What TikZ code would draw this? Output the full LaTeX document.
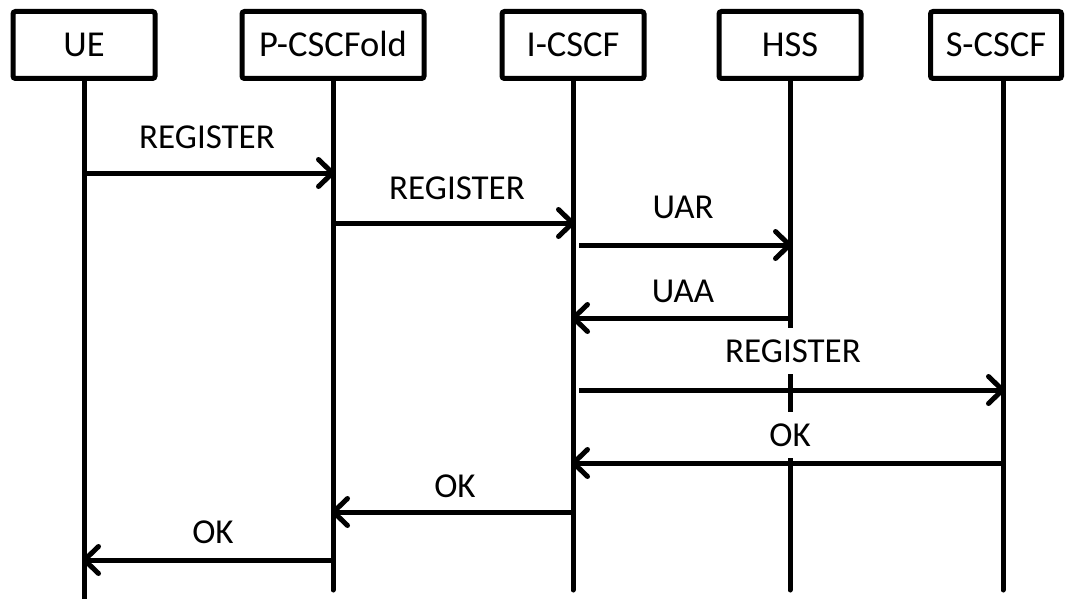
\documentclass[tikz,border=0pt]{standalone}
\usepackage{fontspec}
\setmainfont{Carlito}
\usetikzlibrary{arrows.meta}
\begin{document}
\begin{tikzpicture}[x=1pt,y=-1pt,
  actor/.style={draw, line width=5pt, rounded corners=2.5pt, minimum height=67pt,
    inner sep=0pt, font=\fontsize{36.5}{42}\selectfont, text height=23pt, text depth=0pt},
  life/.style={line width=5pt, line cap=round},
  msg/.style={line width=5pt, -{Straight Barb[length=14pt,width=27pt,round]}},
  lbl/.style={fill=white, inner xsep=4pt, inner ysep=12pt, anchor=base,
    font=\fontsize{35}{40}\selectfont, text height=22pt, text depth=0pt},
]
\useasboundingbox (0,0) rectangle (1067,599);

% participants
\node[actor, minimum width=142pt] (ue) at (84,45) {UE};
\node[actor, minimum width=182pt] (pc) at (333,45) {P-CSCFold};
\node[actor, minimum width=142pt] (ic) at (573,45) {I-CSCF};
\node[actor, minimum width=142pt] (hss) at (790,45) {HSS};
\node[actor, minimum width=131pt] (sc) at (996,45) {S-CSCF};

% lifeline ends
\coordinate (ueT) at (84,81);   \coordinate (ueB) at (84,602);
\coordinate (pcT) at (333,81);  \coordinate (pcB) at (333,590);
\coordinate (icT) at (573,81);  \coordinate (icB) at (573,590);
\coordinate (hsT) at (790,81);  \coordinate (hsB) at (790,590);
\coordinate (scT) at (1003,81); \coordinate (scB) at (1003,590);

\draw[life] (ueT) -- (ueB);
\draw[life] (pcT) -- (pcB);
\draw[life] (icT) -- (icB);
\draw[life] (hsT) -- (hsB);
\draw[life] (scT) -- (scB);

% message labels
\node[lbl] (t1) at (207,148) {REGISTER};
\node[lbl] (t2) at (457,199) {REGISTER};
\node[lbl] (t3) at (683,218) {UAR};
\node[lbl] (t4) at (683,302) {UAA};
\node[lbl] (t5) at (793,362) {REGISTER};
\node[lbl] (t6) at (790,446) {OK};
\node[lbl] (t7) at (455,497) {OK};
\node[lbl] (t8) at (213,543) {OK};

% messages
\draw[msg] (ueT |- 0,173) -- ([xshift=2pt]pcT |- 0,173);
\draw[msg] (pcT |- 0,223) -- ([xshift=2pt]icT |- 0,223);
\draw[msg, shorten <=6pt] (icT |- 0,245) -- ([xshift=2pt]hsT |- 0,245);
\draw[msg] (hsT |- 0,318) -- ([xshift=-2pt]icT |- 0,318);
\draw[msg, shorten <=6pt] (icT |- 0,390) -- ([xshift=2pt]scT |- 0,390);
\draw[msg] (scT |- 0,463) -- ([xshift=-2pt]icT |- 0,463);
\draw[msg] (icT |- 0,512) -- ([xshift=-2pt]pcT |- 0,512);
\draw[msg] (pcT |- 0,560) -- ([xshift=-2pt]ueT |- 0,560);
\end{tikzpicture}
\end{document}
